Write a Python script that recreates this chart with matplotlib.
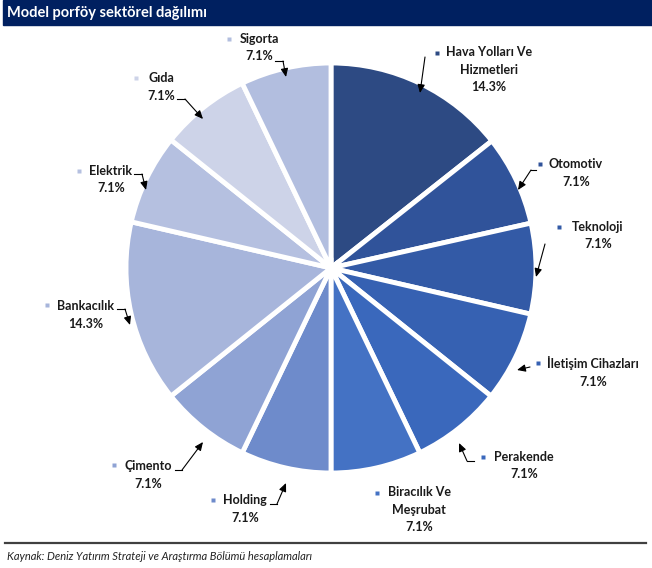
import numpy as np
import matplotlib.pyplot as plt

sectors = ['Hava Yolları Ve\nHizmetleri', 'Otomotiv', 'Teknoloji', 'İletişim Cihazları', 'Perakende',
           'Biracılık Ve\nMeşrubat', 'Holding', 'Çimento', 'Bankacılık', 'Elektrik', 'Gıda', 'Sigorta']
weights = [14.3, 7.1, 7.1, 7.1, 7.1, 7.1, 7.1, 7.1, 14.3, 7.1, 7.1, 7.1]
colors = ['#2D4A83', '#30539A', '#335AA6', '#3661B2', '#3A68BC', '#4472C4',
          '#6E8BCB', '#8FA3D4', '#A7B5DB', '#B5C0E0', '#CDD3E8', '#B2BEDF']

# label layout in pixel coords (x from left, y from top)
label_pos = [(489, 53), (576, 165), (598, 228), (593, 363), (524, 458), (419, 493),
             (245, 501), (148, 467), (86, 307), (111, 172), (161, 79), (259, 40)]
marker_pos = [(437, 53), (540, 164), (559, 227), (538, 363), (483, 457), (377, 493),
              (213, 500), (114, 465), (47, 305), (79, 171), (136, 78), (229, 39)]
leaders = [[(425, 57), (420, 93)],
           [(536, 170), (531, 170), (518, 190)],
           [(545, 244), (536, 277)],
           [(530, 367), (517, 370)],
           [(474, 461), (467, 461), (459, 443)],
           [],
           [(270, 504), (277, 504), (286, 483)],
           [(175, 470), (182, 470), (203, 442)],
           [(117, 309), (125, 309), (130, 325)],
           [(134, 174), (142, 174), (146, 190)],
           [(177, 99), (185, 99), (203, 119)],
           [(275, 61), (283, 61), (286, 77)]]

W, H = 652, 568
fig = plt.figure(figsize=(6.52, 5.68), dpi=100)
ax = fig.add_axes([0, 0, 1, 1])

def P(x, y):
    return (x, H - y)

ax.pie(weights, colors=colors, startangle=90, counterclock=False,
       center=P(331, 268), radius=205,
       wedgeprops=dict(edgecolor='white', linewidth=3.5))

ax.set_xlim(0, W)
ax.set_ylim(0, H)
ax.set_aspect('auto')
ax.axis('off')

font = 'Lato'
for name, w, c, lp, mp, ld in zip(sectors, weights, colors, label_pos, marker_pos, leaders):
    ax.text(lp[0], H - lp[1] + 7, name + '\n' + f'{w:.1f}%', ha='center', va='top', ma='center',
            fontsize=9, fontweight='bold', family=font, color='#1a1a1a',
            linespacing=1.55)
    ax.plot(*P(*mp), marker='s', ms=3.5, color=c, mec='none')
    if ld:
        pts = [P(*p) for p in ld]
        if len(pts) > 2:
            xs, ys = zip(*pts[:-1])
            ax.plot(xs, ys, color='black', lw=0.8)
        ax.annotate('', xy=pts[-1], xytext=pts[-2],
                    arrowprops=dict(arrowstyle='-|>,head_length=0.5,head_width=0.22',
                                    color='black', lw=0.8, shrinkA=0, shrinkB=0))

# title bar
ax.add_patch(plt.Rectangle(P(3, 25), W - 3, 25, color='#002060', clip_on=False))
ax.text(*P(7, 13), 'Model porföy sektörel dağılımı', color='white', fontsize=10.5,
        fontweight='bold', family=font, va='center', ha='left')

# footer
ax.plot([5, 646], [H - 543, H - 543], color='#404040', lw=1.6)
ax.text(*P(7, 556), 'Kaynak: Deniz Yatırım Strateji ve Araştırma Bölümü hesaplamaları',
        fontsize=8, style='italic', family=font, color='#222222', va='center', ha='left')

fig.savefig('out.png', dpi=100)
